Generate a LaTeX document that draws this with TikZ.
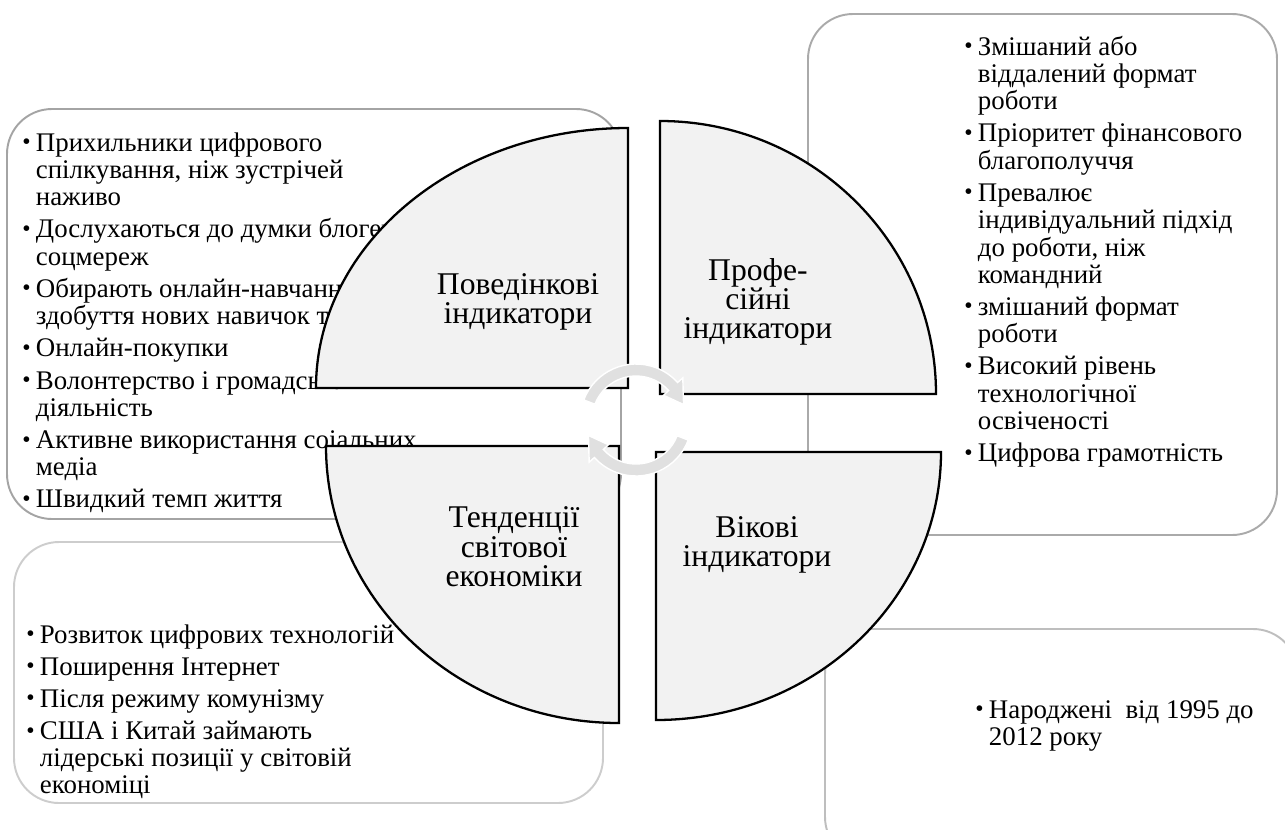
\documentclass[tikz,border=0pt]{standalone}
\usepackage{fontspec}
\setmainfont{Liberation Serif}
\usepackage{xcolor}
\usetikzlibrary{positioning}

\definecolor{sectorfill}{HTML}{F2F2F2}
\definecolor{arrowfill}{HTML}{E0E0E0}
\definecolor{edgeA}{HTML}{A4A4A4}
\definecolor{edgeB}{HTML}{AAAAAA}
\definecolor{edgeC}{HTML}{CDCDCD}
\definecolor{edgeD}{HTML}{BEBEBE}

\begin{document}
\begin{tikzpicture}[y=-0.02cm,x=0.02cm,
	listbox/.style={rounded corners=0.9cm, line width=1.1pt, fill=white},
	sector/.style={fill=sectorfill, draw=black, line width=1.3pt},
	sectorlabel/.style={align=center, inner sep=0pt, font=\fontsize{18}{16.7}\selectfont},
	listtext/.style={anchor=base west, inner sep=0pt, font=\fontsize{15.3}{15.5}\selectfont},
	cyclearrow/.style={fill=arrowfill, draw=white, line width=0.8pt}]
	\newcommand\Dot{{\fontsize{13.5}{13.5}\selectfont\raisebox{0.8pt}{\textbullet}}}

	\clip (0,0) rectangle (1285,829);

	% boxes behind
	\draw[listbox, draw=edgeA] (7,109) rectangle (621,519);
	\draw[listbox, draw=edgeB] (808,14) rectangle (1277,535);
	\draw[listbox, draw=edgeC] (14,542) rectangle (603,803);
	\draw[listbox, draw=edgeD] (825,629) rectangle (1298,862);

	% lists
	\node[listtext] (behavlist) at (22,151) {\begin{tabular}[t]{@{}l@{\hspace{3pt}}l@{}}
		\Dot & Прихильники цифрового\\
		     & спілкування, ніж зустрічей\\
		     & наживо\\[2.8pt]
		\Dot & Дослухаються до думки блогерів\\
		     & соцмереж\\[2.8pt]
		\Dot & Обирають онлайн-навчання\\
		     & здобуття нових навичок та\\[2.8pt]
		\Dot & Онлайн-покупки\\[2.8pt]
		\Dot & Волонтерство і громадська\\
		     & діяльність\\[2.8pt]
		\Dot & Активне використання соіальних\\
		     & медіа\\[2.8pt]
		\Dot & Швидкий темп життя
	\end{tabular}};
	\node[listtext] (proflist) at (964,55) {\begin{tabular}[t]{@{}l@{\hspace{3pt}}l@{}}
		\Dot & Змішаний або\\
		     & віддалений формат\\
		     & роботи\\[2.8pt]
		\Dot & Пріоритет фінансового\\
		     & благополуччя\\[2.8pt]
		\Dot & Превалює\\
		     & індивідуальний підхід\\
		     & до роботи, ніж\\
		     & командний\\[2.8pt]
		\Dot & змішаний формат\\
		     & роботи\\[2.8pt]
		\Dot & Високий рівень\\
		     & технологічної\\
		     & освіченості\\[2.8pt]
		\Dot & Цифрова грамотність
	\end{tabular}};
	\node[listtext] (trendlist) at (26,643) {\begin{tabular}[t]{@{}l@{\hspace{3pt}}l@{}}
		\Dot & Розвиток цифрових технологій\\[2.8pt]
		\Dot & Поширення Інтернет\\[2.8pt]
		\Dot & Після режиму комунізму\\[2.8pt]
		\Dot & США і Китай займають\\
		     & лідерські позиції у світовій\\
		     & економіці
	\end{tabular}};
	\node[listtext] (agelist) at (975,718) {\begin{tabular}[t]{@{}l@{\hspace{3pt}}l@{}}
		\Dot & Народжені~~від 1995 до\\
		     & 2012 року
	\end{tabular}};

	% quarters
	\draw[sector] (628,388) -- ++(-312,0) arc[start angle=180, end angle=270, x radius=312, y radius=260] -- cycle;
	\draw[sector] (660,394) -- ++(0,-273) arc[start angle=270, end angle=360, x radius=276, y radius=273] -- cycle;
	\draw[sector] (619,446) -- ++(-293,0) arc[start angle=180, end angle=90, x radius=293, y radius=277] -- cycle;
	\draw[sector] (656,452) -- ++(285,0) arc[start angle=0, end angle=90, x radius=285, y radius=268] -- cycle;

	\node[sectorlabel] (behav) at (518,302) {Поведінкові\\індикатори};
	\node[sectorlabel] (prof) at (758,302) {Профе-\\сійні\\індикатори};
	\node[sectorlabel] (trend) at (514,547) {Тенденції\\світової\\економіки};
	\node[sectorlabel] (age) at (757,545) {Вікові\\індикатори};

	% cycle arrows
	\begin{scope}[shift={(636,420)}]
		\filldraw[cyclearrow] (-159:56) arc[start angle=-159, end angle=-42, radius=56] -- (-42:63) -- (-18:50) -- (-42:37) -- (-42:44) arc[start angle=-42, end angle=-159, radius=44] -- cycle;
		\filldraw[cyclearrow] (21:56) arc[start angle=21, end angle=138, radius=56] -- (138:63) -- (162:50) -- (138:37) -- (138:44) arc[start angle=138, end angle=21, radius=44] -- cycle;
	\end{scope}
\end{tikzpicture}
\end{document}
